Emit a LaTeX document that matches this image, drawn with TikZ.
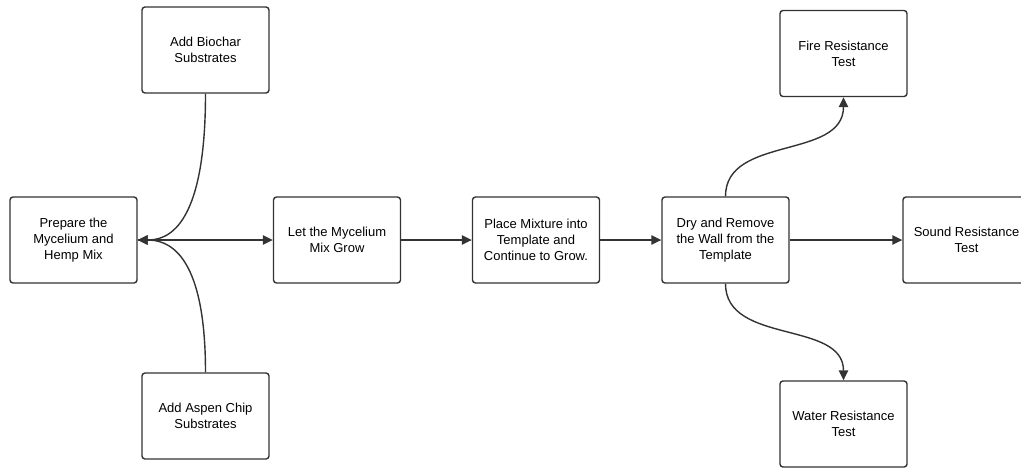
\documentclass[tikz,border=0pt]{standalone}
\usepackage{fontspec}
\setmainfont{Liberation Sans}
\usetikzlibrary{arrows.meta}
\begin{document}
\begin{tikzpicture}[x=1pt,y=-1pt,block/.style={draw=black!80,fill=white,rounded corners=3pt,align=center,minimum width=127pt,minimum height=86pt,inner sep=4pt,line width=1.4pt,font=\fontsize{13}{16}\selectfont},arrow/.style={-{Triangle[length=10pt,width=9.5pt]},line width=1.4pt,draw=black!80}]
\useasboundingbox[fill=white] (0,0) rectangle (1021,467);
\node[block] (n0) at (73.5,240) {Prepare the\\Mycelium and\\Hemp Mix};
\node[block] (n1) at (205.5,50) {Add Biochar\\Substrates};
\node[block] (n2) at (205.5,416) {Add Aspen Chip\\Substrates};
\node[block] (n3) at (337,240) {Let the Mycelium\\Mix Grow};
\node[block] (n4) at (536,240) {Place Mixture into\\Template and\\Continue to Grow.};
\node[block] (n5) at (725.5,240) {Dry and Remove\\the Wall from the\\Template};
\node[block] (n6) at (843.5,53.5) {Fire Resistance\\Test};
\node[block] (n7) at (966.5,240) {Sound Resistance\\Test};
\node[block] (n8) at (843.5,424) {Water Resistance\\Test};
\draw[arrow] (n1.south) .. controls (205.5,232) and (165,240) .. (n0.east);
\draw[arrow] (n2.north) .. controls (205.5,248) and (165,240) .. (n0.east);
\draw[arrow] (n0) -- (n3);
\draw[arrow] (n3) -- (n4);
\draw[arrow] (n4) -- (n5);
\draw[arrow] (n5) -- (n7);
\draw[arrow] (n5.north) .. controls (725.5,135) and (843.5,160) .. (n6.south);
\draw[arrow] (n5.south) .. controls (725.5,345) and (843.5,320) .. (n8.north);
\end{tikzpicture}
\end{document}
